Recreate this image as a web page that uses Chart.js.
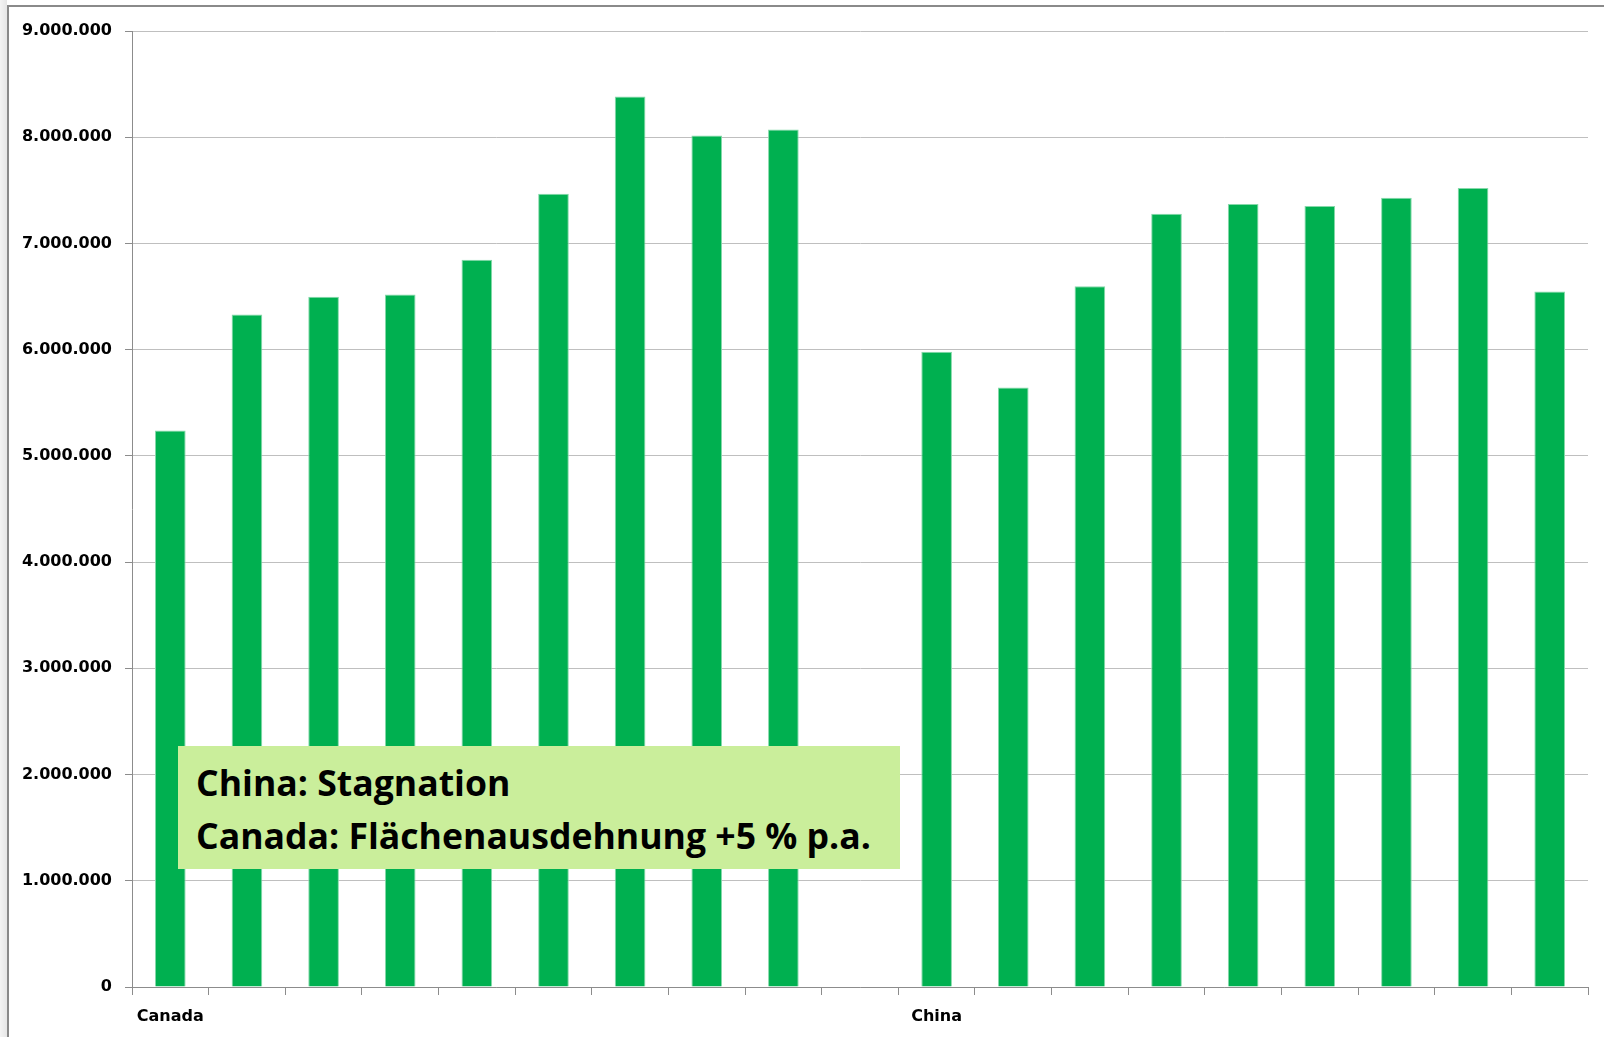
<!DOCTYPE html>
<html>
<head>
<meta charset="utf-8">
<script src="https://cdn.jsdelivr.net/npm/chart.js@4/dist/chart.umd.min.js"></script>
<style>
    body { margin:0; background:#fff; }
    #wrap { position:relative; width:1604px; height:1037px; overflow:hidden; }
    #strip { position:absolute; left:0; top:0; width:7px; height:1037px; background:linear-gradient(to right,#f4f4f4,#e6e6e6); }
    #frame { position:absolute; left:7px; top:5px; right:-4px; bottom:-4px; border-left:2px solid #8a8a8a; border-top:2px solid #8a8a8a; }
    #chart { position:absolute; left:0; top:0; }
    #note { position:absolute; left:178px; top:746px; width:722px; height:123px; padding:10px 0 0 18px; box-sizing:border-box;
            background:#caee9b; font:700 35.6px "Open Sans"; line-height:52.7px; color:#000; white-space:nowrap; }
</style>
</head>
<body>
<div id="wrap">
    <div id="strip"></div>
    <div id="frame"></div>
    <canvas id="chart" width="1604" height="1037"></canvas>
    <div id="note">China: Stagnation<br>Canada: Flächenausdehnung +5 % p.a.</div>
</div>
<script>
// Daten
var labels = ['Canada','','','','','','','','','','China','','','','','','','',''];
var canadaValues = [5240000, 6330000, 6497000, 6519000, 6846000, 7469000, 8384000, 8016000, 8073000];
var chinaValues = [5981000, 5645000, 6598000, 7280000, 7372000, 7353000, 7431000, 7523000, 6547000];
var yTicks = [0, 1000000, 2000000, 3000000, 4000000, 5000000, 6000000, 7000000, 8000000, 9000000];

var axisGray = '#8c8c8c';
var tickFont = {family:'DejaVu Sans', weight:'bold', size:16};

function formatDE(v) {
    return String(v).replace(/\B(?=(\d{3})+(?!\d))/g, '.');
}

window.onload = function(){
    var values = canadaValues.concat([null], chinaValues);
    var ctx = document.getElementById('chart').getContext('2d');

    window.areaChart = new Chart(ctx, {
        type: 'bar',
        data: {
            labels: labels,
            datasets: [{
                data: values,
                backgroundColor: '#00b050',
                borderColor: '#86d9aa',
                borderWidth: 1,
                barPercentage: 0.4,
                categoryPercentage: 1.0
            }]
        },
        options: {
            responsive: false,
            animation: false,
            layout: {padding: {left:0, top:31, right:16, bottom:0}},
            plugins: {legend: {display:false}, tooltip: {enabled:false}},
            scales: {
                x: {
                    offset: true,
                    grid: {offset:true, drawOnChartArea:false, tickLength:8, tickColor:axisGray},
                    border: {color:axisGray},
                    ticks: {autoSkip:false, maxRotation:0, padding:12, color:'#000', font:tickFont},
                    afterFit: function(s){ s.height = 50; }
                },
                y: {
                    min: 0,
                    max: 9000000,
                    afterBuildTicks: function(s){ s.ticks = yTicks.map(function(v){ return {value:v}; }); },
                    grid: {color:'#bfbfbf', tickColor:axisGray, tickLength:7},
                    border: {color:axisGray},
                    ticks: {padding:13, color:'#000', font:tickFont, callback: function(v){ return formatDE(v); }},
                    afterFit: function(s){ s.width = 132; }
                }
            }
        }
    });
};
</script>
</body>
</html>
